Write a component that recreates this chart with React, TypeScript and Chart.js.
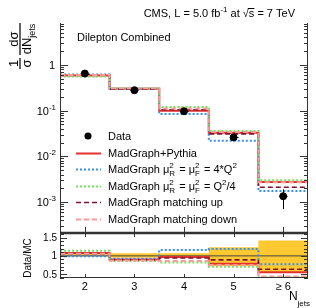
import React, { useEffect, useRef } from "react";
import { Chart, registerables } from "chart.js";
Chart.register(...registerables);

// ---------- data ----------
const binCenters = [2, 3, 4, 5, 6];
const binEdges = [1.5, 2.5, 3.5, 4.5, 5.5, 6.5];
const xTickLabels = ["2", "3", "4", "5", "\u2265 6"];

const dataValues = [0.65, 0.28, 0.097, 0.026, 0.00134];
const dataErrLow = [0.62, 0.268, 0.093, 0.0235, 0.0007];
const dataErrHigh = [0.68, 0.292, 0.101, 0.0285, 0.0019];

const madgraphPythia = [0.59, 0.3, 0.1, 0.033, 0.00275];
const scaleUp4Q2 = [0.62, 0.3, 0.085, 0.022, 0.00174];
const scaleDownQ2over4 = [0.56, 0.31, 0.12, 0.036, 0.003];
const matchingUp = [0.6, 0.3, 0.105, 0.031, 0.0021];
const matchingDown = [0.6, 0.31, 0.112, 0.034, 0.0027];

const ratioMadgraphPythia = [1.08, 0.9, 0.97, 0.78, 0.55];
const ratioScaleUp4Q2 = [0.99, 0.92, 1.16, 1.19, 0.77];
const ratioScaleDownQ2over4 = [1.14, 0.86, 0.82, 0.7, 0.41];
const ratioMatchingUp = [1.05, 0.89, 0.94, 0.89, 0.63];
const ratioMatchingDown = [1.06, 0.87, 0.86, 0.75, 0.43];

const ratioBandLow = [0.98, 0.95, 0.96, 0.72, 0.55];
const ratioBandHigh = [1.05, 1.07, 1.07, 1.24, 1.42];

const topTickValues = [1, 0.1, 0.01, 0.001];
const topTickExponents = [0, -1, -2, -3];
const ratioTickValues = [1.5, 1, 0.5];
const ratioTickLabels = ["1.5", "1", "0.5"];

const seriesNames = [
  "Data",
  "MadGraph+Pythia",
  "MadGraph scale up",
  "MadGraph scale down",
  "MadGraph matching up",
  "MadGraph matching down",
];

// ---------- styles ----------
const FONT = "'Liberation Sans', Arial, Helvetica, sans-serif";
const modelStyles = [
  { color: "#e3302c", width: 2, dash: [] as number[] },
  { color: "#3a8fe6", width: 2, dash: [2, 2] },
  { color: "#74e060", width: 2, dash: [2, 2] },
  { color: "#7d1233", width: 1.6, dash: [5, 3] },
  { color: "#ff9a9a", width: 2, dash: [5, 3] },
];
const BAND = "#fec831";
const AXIS = "#333";

const topModels = [madgraphPythia, scaleUp4Q2, scaleDownQ2over4, matchingUp, matchingDown];
const ratioModels = [
  ratioMadgraphPythia,
  ratioScaleUp4Q2,
  ratioScaleDownQ2over4,
  ratioMatchingUp,
  ratioMatchingDown,
];

// point at each bin's left edge carries that bin's value (last edge repeats last bin)
const stepPoints = (vals: number[]) =>
  binEdges.map((x, i) => ({ x, y: vals[Math.min(i, vals.length - 1)] }));

type Part = { t?: string; s: number; dy?: number; stack?: [string, string]; over?: boolean };

function partW(ctx: CanvasRenderingContext2D, p: Part) {
  ctx.font = `${p.s}px ${FONT}`;
  if (p.stack) return Math.max(ctx.measureText(p.stack[0]).width, ctx.measureText(p.stack[1]).width) + 1;
  return ctx.measureText(p.t || "").width;
}

function drawRich(
  ctx: CanvasRenderingContext2D,
  parts: Part[],
  x: number,
  y: number,
  align: "left" | "right" | "center"
) {
  const total = parts.reduce((a, p) => a + partW(ctx, p), 0);
  let cx = align === "left" ? x : align === "right" ? x - total : x - total / 2;
  ctx.textAlign = "left";
  ctx.textBaseline = "alphabetic";
  for (const p of parts) {
    const w = partW(ctx, p);
    ctx.font = `${p.s}px ${FONT}`;
    if (p.stack) {
      ctx.fillText(p.stack[0], cx, y - 5);
      ctx.fillText(p.stack[1], cx, y + 3);
    } else {
      ctx.fillText(p.t || "", cx, y + (p.dy || 0));
      if (p.over) {
        ctx.fillRect(cx - 1, y - 9, w + 1, 1);
      }
    }
    cx += w;
  }
}

function hLine(ctx: CanvasRenderingContext2D, x1: number, x2: number, y: number) {
  ctx.beginPath();
  ctx.moveTo(x1, y);
  ctx.lineTo(x2, y);
  ctx.stroke();
}
function vLine(ctx: CanvasRenderingContext2D, x: number, y1: number, y2: number) {
  ctx.beginPath();
  ctx.moveTo(x, y1);
  ctx.lineTo(x, y2);
  ctx.stroke();
}

const legendTexts: Part[][] = [
  [{ t: seriesNames[0], s: 11 }],
  [{ t: seriesNames[1], s: 11 }],
  [
    { t: "MadGraph ", s: 11 },
    { t: "\u03bc", s: 11 },
    { stack: ["2", "R"], s: 8 },
    { t: " = \u03bc", s: 11 },
    { stack: ["2", "F"], s: 8 },
    { t: " = 4*Q", s: 11 },
    { t: "2", s: 8, dy: -5 },
  ],
  [
    { t: "MadGraph ", s: 11 },
    { t: "\u03bc", s: 11 },
    { stack: ["2", "R"], s: 8 },
    { t: " = \u03bc", s: 11 },
    { stack: ["2", "F"], s: 8 },
    { t: " = Q", s: 11 },
    { t: "2", s: 8, dy: -5 },
    { t: "/4", s: 11 },
  ],
  [{ t: seriesNames[4], s: 11 }],
  [{ t: seriesNames[5], s: 11 }],
];

const topDecor = {
  id: "topDecor",
  afterDatasetsDraw(chart: any) {
    const { ctx, chartArea: a, scales } = chart;
    const x = scales.x;
    const y = scales.y;
    ctx.save();
    // data error bars
    ctx.strokeStyle = "#000";
    ctx.lineWidth = 1;
    binCenters.forEach((c, i) => {
      const px = Math.round(x.getPixelForValue(c)) + 0.5;
      vLine(ctx, px, y.getPixelForValue(dataErrLow[i]), y.getPixelForValue(dataErrHigh[i]));
      const py = y.getPixelForValue(dataValues[i]);
      hLine(ctx, px - 4, px + 4, Math.round(py) + 0.5);
    });
    // frame
    ctx.strokeStyle = AXIS;
    ctx.lineWidth = 1;
    vLine(ctx, a.left + 0.5, a.top, a.bottom);
    vLine(ctx, a.right - 0.5, a.top, a.bottom);
    ctx.lineWidth = 1.5;
    hLine(ctx, a.left, a.right, a.bottom - 0.5);
    ctx.lineWidth = 1;
    // log ticks
    for (let d = -4; d <= 1; d++) {
      for (let m = 1; m <= 9; m++) {
        const v = m * Math.pow(10, d);
        if (v < y.min || v > y.max) continue;
        const py = Math.round(y.getPixelForValue(v)) + 0.5;
        const len = m === 1 ? 8 : 4;
        hLine(ctx, a.left, a.left + len, py);
        hLine(ctx, a.right - len, a.right, py);
      }
    }
    // x ticks on bottom
    binCenters.forEach((c) => {
      const px = Math.round(x.getPixelForValue(c)) + 0.5;
      vLine(ctx, px, a.bottom - 6, a.bottom);
    });
    // y tick labels
    ctx.fillStyle = "#000";
    topTickValues.forEach((v, i) => {
      const py = y.getPixelForValue(v) + 4;
      const e = topTickExponents[i];
      if (e === 0) drawRich(ctx, [{ t: "1", s: 11 }], 55, py, "right");
      else drawRich(ctx, [{ t: "10", s: 11 }, { t: String(e), s: 8, dy: -5 }], 56, py, "right");
    });
    // y title: 1/sigma dsigma/dNjets
    ctx.save();
    ctx.translate(20, 71);
    ctx.rotate(-Math.PI / 2);
    ctx.textBaseline = "alphabetic";
    ctx.textAlign = "center";
    ctx.font = `13px ${FONT}`;
    ctx.fillText("1", 7.5, -2);
    ctx.fillText("\u03c3", 7.5, 11);
    ctx.fillRect(2, -0.6, 11, 1.2);
    ctx.fillText("d\u03c3", 32, -2);
    ctx.fillRect(16, -0.6, 32, 1.2);
    ctx.textAlign = "left";
    ctx.font = `13px ${FONT}`;
    const wdn = ctx.measureText("dN").width;
    ctx.font = `9px ${FONT}`;
    const wj = ctx.measureText("jets").width;
    const sx = 32 - (wdn + wj) / 2;
    ctx.font = `13px ${FONT}`;
    ctx.fillText("dN", sx, 11);
    ctx.font = `9px ${FONT}`;
    ctx.fillText("jets", sx + wdn, 15);
    ctx.restore();
    // title
    drawRich(
      ctx,
      [
        { t: "CMS, L = 5.0 fb", s: 11 },
        { t: "-1", s: 8, dy: -5 },
        { t: " at \u221a", s: 11 },
        { t: "s", s: 11, over: true },
        { t: " = 7 TeV", s: 11 },
      ],
      295,
      17,
      "right"
    );
    // label
    ctx.font = `11px ${FONT}`;
    ctx.textAlign = "left";
    ctx.fillText("Dilepton Combined", 77, 41);
    // legend
    const rows = legendTexts.length;
    for (let i = 0; i < rows; i++) {
      const cy = 136 + 16.6 * i;
      if (i === 0) {
        ctx.fillStyle = "#000";
        ctx.beginPath();
        ctx.arc(88, cy, 3.5, 0, Math.PI * 2);
        ctx.fill();
      } else {
        const st = modelStyles[i - 1];
        ctx.strokeStyle = st.color;
        ctx.lineWidth = st.width;
        ctx.setLineDash(st.dash);
        hLine(ctx, 76, 101, Math.round(cy) + 0.5);
        ctx.setLineDash([]);
      }
      ctx.fillStyle = "#000";
      drawRich(ctx, legendTexts[i], 108, cy + 4, "left");
    }
    ctx.restore();
  },
};

const ratioDecor = {
  id: "ratioDecor",
  afterDatasetsDraw(chart: any) {
    const { ctx, chartArea: a, scales } = chart;
    const x = scales.x;
    const y = scales.y;
    ctx.save();
    ctx.strokeStyle = AXIS;
    ctx.lineWidth = 1;
    vLine(ctx, a.left + 0.5, a.top, a.bottom);
    vLine(ctx, a.right - 0.5, a.top, a.bottom);
    hLine(ctx, a.left, a.right, a.bottom - 0.5);
    ctx.lineWidth = 1.5;
    hLine(ctx, a.left, a.right, a.top + 0.5);
    ctx.lineWidth = 1;
    for (let k = 4; k <= 16; k++) {
      const v = k / 10;
      if (v < y.min || v > y.max) continue;
      const py = Math.round(y.getPixelForValue(v)) + 0.5;
      const len = k % 5 === 0 ? 7 : 4;
      hLine(ctx, a.left, a.left + len, py);
      hLine(ctx, a.right - len, a.right, py);
    }
    binCenters.forEach((c) => {
      const px = Math.round(x.getPixelForValue(c)) + 0.5;
      vLine(ctx, px, a.top, a.top + 4);
      vLine(ctx, px, a.bottom - 4, a.bottom);
    });
    ctx.fillStyle = "#000";
    ratioTickValues.forEach((v, i) => {
      drawRich(ctx, [{ t: ratioTickLabels[i], s: 10 }], 57, y.getPixelForValue(v) + 3.5, "right");
    });
    binCenters.forEach((c, i) => {
      drawRich(ctx, [{ t: xTickLabels[i], s: 11 }], x.getPixelForValue(c), 290, "center");
    });
    drawRich(ctx, [{ t: "N", s: 12 }, { t: "jets", s: 8, dy: 6 }], 310, 300, "right");
    ctx.save();
    ctx.translate(31, 258);
    ctx.rotate(-Math.PI / 2);
    ctx.font = `10px ${FONT}`;
    ctx.textAlign = "center";
    ctx.textBaseline = "alphabetic";
    ctx.fillText("Data/MC", 0, 0);
    ctx.restore();
    ctx.restore();
  },
};

const baseOptions = (padding: any, yScale: any) => ({
  responsive: false,
  maintainAspectRatio: false,
  animation: false as const,
  events: [] as any[],
  layout: { padding },
  plugins: { legend: { display: false }, tooltip: { enabled: false } },
  scales: {
    x: { type: "linear" as const, min: 1.5, max: 6.5, display: false },
    y: { ...yScale, display: false },
  },
});

export default function App() {
  const topRef = useRef<HTMLCanvasElement>(null);
  const ratioRef = useRef<HTMLCanvasElement>(null);

  useEffect(() => {
    const modelDatasets = (models: number[][], baseOrder: number) =>
      models.map((vals, i) => ({
        type: "line" as const,
        data: stepPoints(vals),
        stepped: "before" as const,
        borderColor: modelStyles[i].color,
        borderWidth: modelStyles[i].width,
        borderDash: modelStyles[i].dash,
        pointRadius: 0,
        fill: false,
        order: baseOrder + (models.length - i),
      }));

    const top = new Chart(topRef.current!, {
      type: "line",
      data: {
        datasets: [
          {
            type: "scatter" as const,
            data: binCenters.map((c, i) => ({ x: c, y: dataValues[i] })),
            backgroundColor: "#000",
            borderColor: "#000",
            pointRadius: 3.5,
            showLine: false,
            order: 0,
          } as any,
          ...modelDatasets(topModels, 0),
        ],
      },
      options: baseOptions(
        { left: 60, right: 8, top: 23, bottom: 75 },
        { type: "logarithmic", min: 2.1e-4, max: 8.3 }
      ) as any,
      plugins: [topDecor],
    });

    const ratio = new Chart(ratioRef.current!, {
      type: "line",
      data: {
        datasets: [
          {
            type: "line" as const,
            data: stepPoints(ratioBandHigh),
            stepped: "before" as const,
            borderWidth: 0,
            borderColor: "rgba(0,0,0,0)",
            backgroundColor: BAND,
            pointRadius: 0,
            fill: "+1",
            order: 100,
          } as any,
          {
            type: "line" as const,
            data: stepPoints(ratioBandLow),
            stepped: "before" as const,
            borderWidth: 0,
            borderColor: "rgba(0,0,0,0)",
            pointRadius: 0,
            fill: false,
            order: 99,
          },
          {
            type: "line" as const,
            data: [
              { x: 1.5, y: 1 },
              { x: 6.5, y: 1 },
            ],
            borderColor: "#444",
            borderWidth: 1,
            pointRadius: 0,
            fill: false,
            order: 50,
          },
          ...modelDatasets(ratioModels, 0),
        ],
      },
      options: baseOptions(
        { left: 60, right: 8, top: 233, bottom: 30 },
        { type: "linear", min: 0.39, max: 1.63 }
      ) as any,
      plugins: [ratioDecor],
    });

    return () => {
      top.destroy();
      ratio.destroy();
    };
  }, []);

  return (
    <div
      style={{
        position: "absolute",
        left: 0,
        top: 0,
        width: 316,
        height: 308,
        background: "#fff",
        overflow: "hidden",
      }}
    >
      <canvas
        ref={topRef}
        width={316}
        height={308}
        style={{ position: "absolute", left: 0, top: 0, width: 316, height: 308 }}
      />
      <canvas
        ref={ratioRef}
        width={316}
        height={308}
        style={{ position: "absolute", left: 0, top: 0, width: 316, height: 308 }}
      />
    </div>
  );
}
